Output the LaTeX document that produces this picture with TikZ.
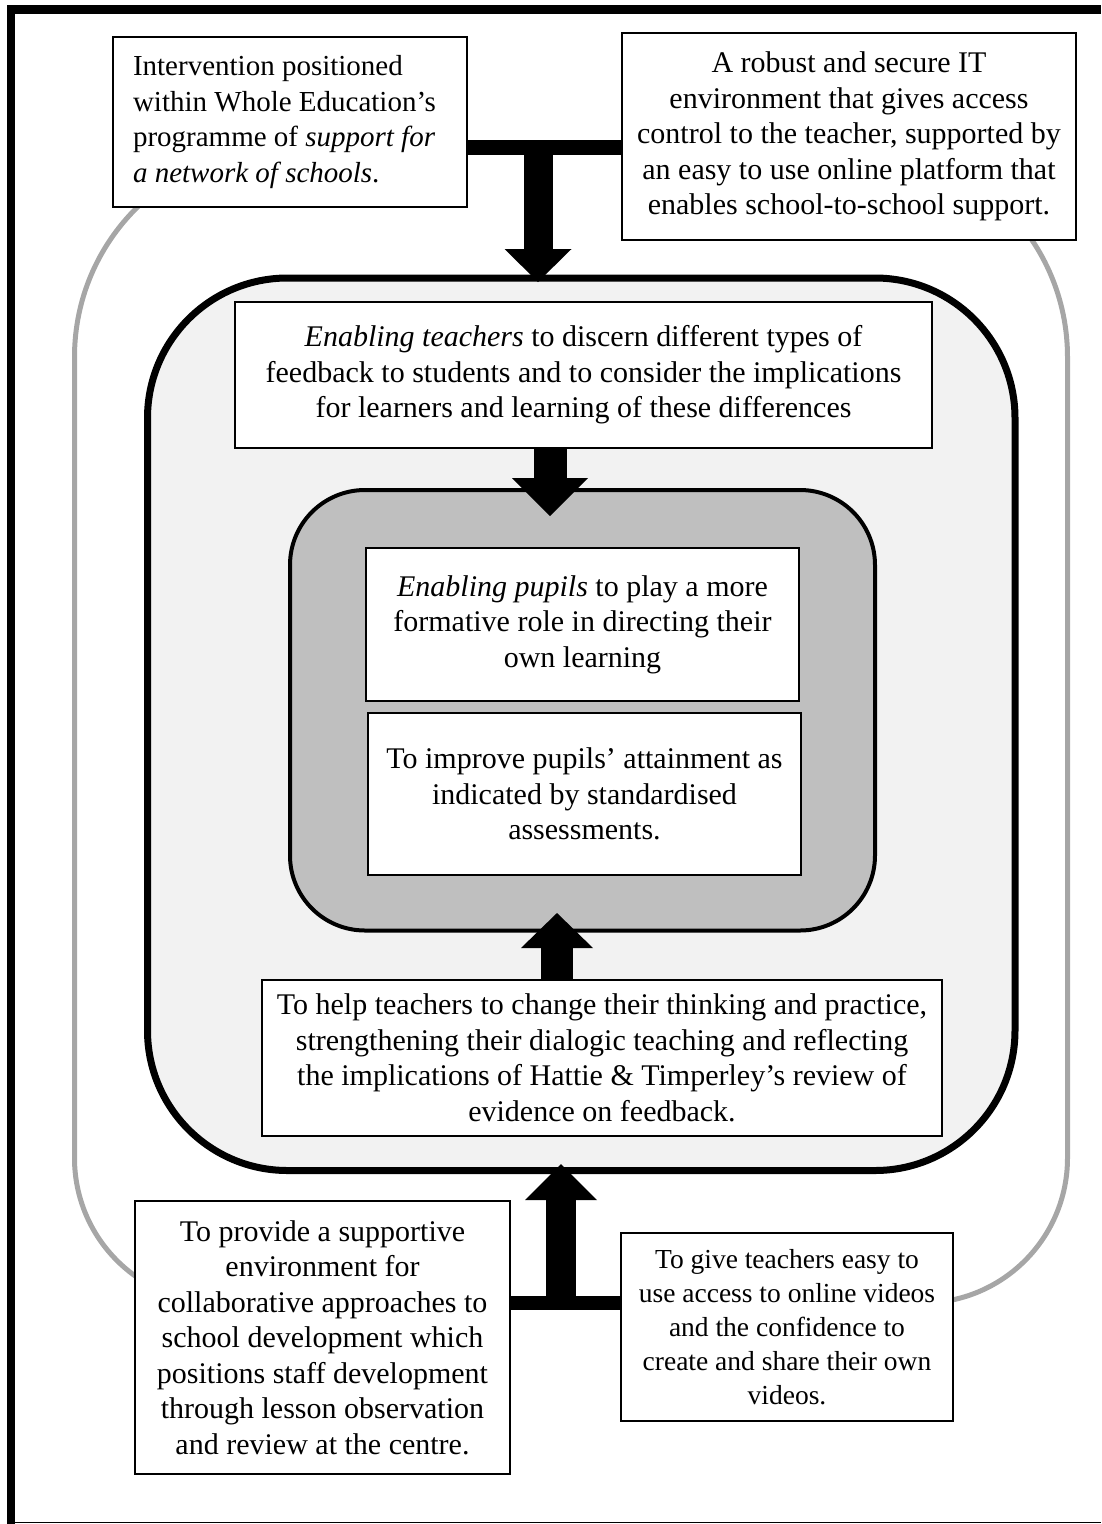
\documentclass[tikz,border=0pt]{standalone}
\usepackage{fontspec}
\setmainfont{Liberation Serif}
\usetikzlibrary{arrows.meta}
\definecolor{paleGrey}{HTML}{F2F2F2}
\definecolor{midGrey}{HTML}{BFBFBF}
\definecolor{ringGrey}{HTML}{A6A6A6}

\begin{document}
\begin{tikzpicture}[x=1pt, y=1pt,
        txtbox/.style={draw, fill=white, line width=1.3pt, inner sep=2pt, align=center,
            font=\fontsize{30}{35.5}\selectfont},
        bar/.style={line width=#1},
        blockarrow/.style n args={3}{line width=#1,
            -{Triangle[width=#2, length=#3, line width=0pt]}}]
        \useasboundingbox (0,0) rectangle (1101,-1524);

        % Page frame
        \draw[line width=8.5pt, line join=miter] (11,-1524) -- (11,-9.5) -- (1101,-9.5);
        \draw[line width=1.5pt] (7,-1522.5) -- (1101,-1522.5);

        % Grey outer ring
        \draw[ringGrey, line width=5pt] (284.5,-147) arc[start angle=90, end angle=180, radius=210]
            -- (74.5,-1158) arc[start angle=180, end angle=270, radius=145]
            -- (922.5,-1303) arc[start angle=270, end angle=360, radius=145]
            -- (1067.5,-357) arc[start angle=0, end angle=90, radius=210] -- cycle;

        % Teacher and pupil frames
        \node[draw, fill=paleGrey, line width=7pt, rounded corners=140pt,
            minimum width=867.5pt, minimum height=892.5pt] (outer) at (581.25,-724.25) {};
        \node[draw, fill=midGrey, line width=4pt, rounded corners=75pt,
            minimum width=585pt, minimum height=440.5pt] (inner) at (582.5,-710.25) {};

        % Top boxes
        \node[txtbox, align=flush left, inner xsep=20pt, text width=314pt, minimum height=170pt,
            font=\fontsize{29}{35.5}\selectfont] (whole) at (290,-122)
            {Intervention positioned\\ within Whole Education’s\\ programme of \textit{support for}\\ \textit{a network of schools}.};
        \node[txtbox, minimum width=454pt, minimum height=207pt] (itenv) at (849,-136.5)
            {A robust and secure IT\\ environment that gives access\\ control to the teacher, supported by\\ an easy to use online platform that\\ enables school-to-school support.};

        % Inner boxes
        \node[txtbox, minimum width=697pt, minimum height=146pt] (teachers) at (583.5,-375)
            {\textit{Enabling teachers} to discern different types of\\ feedback to students and to consider the implications\\ for learners and learning of these differences};
        \node[txtbox, minimum width=433pt, minimum height=153pt] (pupils) at (582.5,-624.5)
            {\textit{Enabling pupils} to play a more\\ formative role in directing their\\ own learning};
        \node[txtbox, minimum width=433pt, minimum height=162pt] (attain) at (584.5,-794)
            {To improve pupils’ attainment as\\ indicated by standardised\\ assessments.};
        \node[txtbox, minimum width=680pt, minimum height=156pt] (practice) at (602,-1058)
            {To help teachers to change their thinking and practice,\\ strengthening their dialogic teaching and reflecting\\ the implications of Hattie \& Timperley’s review of\\ evidence on feedback.};

        % Bottom boxes
        \node[txtbox, minimum width=375pt, minimum height=273pt] (collab) at (322.5,-1337.5)
            {To provide a supportive\\ environment for\\ collaborative approaches to\\ school development which\\ positions staff development\\ through lesson observation\\ and review at the centre.};
        \node[txtbox, minimum width=332pt, minimum height=188pt,
            font=\fontsize{27.5}{34}\selectfont] (videos) at (787,-1327)
            {To give teachers easy to\\ use access to online videos\\ and the confidence to\\ create and share their own\\ videos.};

        % Junctions and arrow tips
        \coordinate (tj) at (538,-147);
        \coordinate (bj) at (561,-1303);
        \coordinate (tip1) at (538,-282);
        \coordinate (tip2) at (550,-516);
        \coordinate (tip3) at (557,-913);
        \coordinate (tip4) at (561,-1164);

        % Bars
        \draw[bar=15pt] (whole.east |- tj) -- (itenv.west |- tj);
        \draw[bar=14pt] (collab.east |- bj) -- (videos.west |- bj);

        % Block arrows
        \draw[blockarrow={29pt}{67pt}{33pt}] (tj) -- (tip1);
        \draw[blockarrow={33pt}{76pt}{38pt}] (teachers.south -| tip2) -- (tip2);
        \draw[blockarrow={32pt}{72pt}{35pt}] (practice.north -| tip3) -- (tip3);
        \draw[blockarrow={30pt}{72pt}{36pt}] (bj) -- (tip4);
\end{tikzpicture}
\end{document}
